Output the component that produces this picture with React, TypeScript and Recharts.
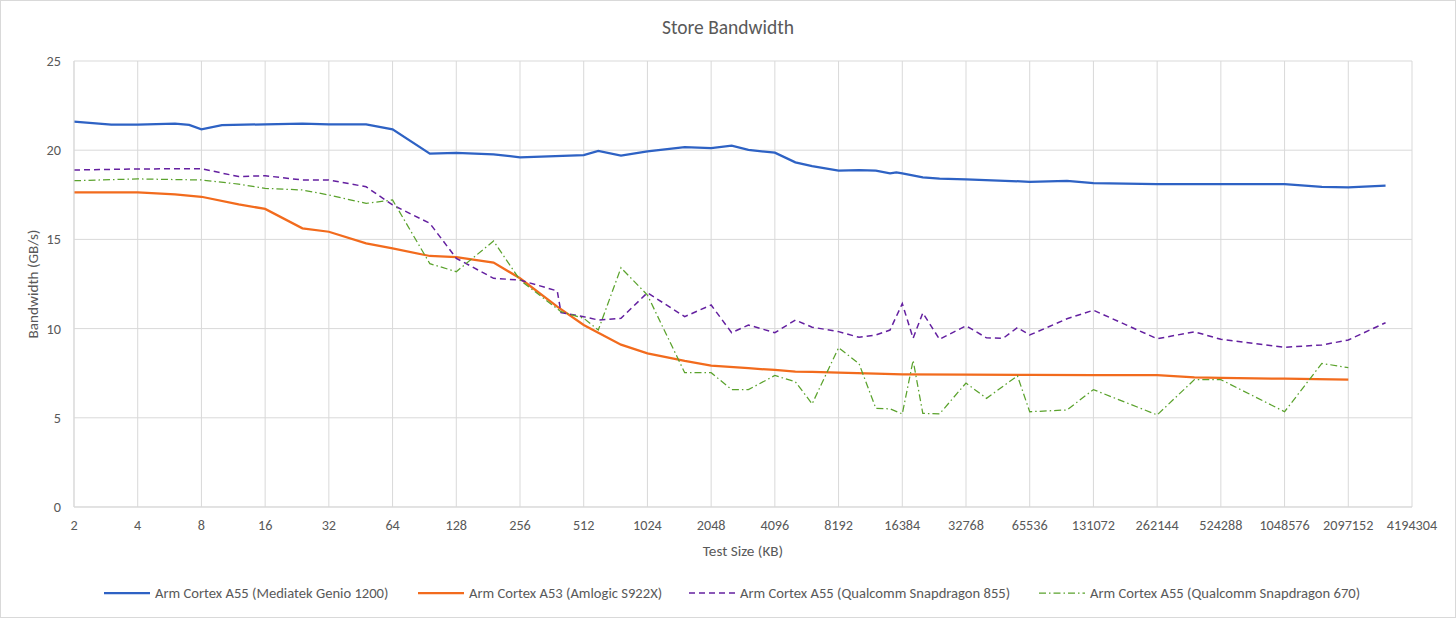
import { LineChart, Line, XAxis, YAxis, CartesianGrid, Legend } from "recharts";

// Test sizes in KB, bandwidth in GB/s
const genioSizes = [2, 3, 4, 6, 7, 8, 10, 16, 24, 32, 48, 64, 96, 128, 192, 256, 512, 600, 768, 1024, 1536, 2048, 2560, 3072,
  4096, 5120, 6144, 8192, 10240, 12288, 14336, 15360, 16384, 20480, 24576, 32768, 65536, 98304, 131072, 262144,
  524288, 1048576, 1572864, 2097152, 3145728];
const genioValues = [21.6, 21.43, 21.43, 21.49, 21.42, 21.17, 21.41, 21.45, 21.49, 21.45, 21.45, 21.17, 19.81, 19.85, 19.77,
  19.6, 19.73, 19.96, 19.7, 19.94, 20.17, 20.12, 20.25, 20.02, 19.86, 19.32, 19.11, 18.85, 18.88, 18.85, 18.7, 18.76,
  18.7, 18.48, 18.4, 18.37, 18.23, 18.28, 18.15, 18.1, 18.1, 18.1, 17.95, 17.92, 18.01];

const s922xSizes = [2, 4, 6, 8, 12, 16, 24, 32, 48, 64, 96, 128, 192, 256, 384, 512, 600, 768, 1024, 1536, 2048, 3072, 4096,
  5120, 6144, 8192, 12288, 16384, 32768, 65536, 131072, 262144, 393216, 524288, 1048576, 2097152];
const s922xValues = [17.63, 17.63, 17.53, 17.39, 16.96, 16.71, 15.62, 15.43, 14.78, 14.5, 14.07, 14.0, 13.7, 12.82, 11.23,
  10.2, 9.77, 9.1, 8.61, 8.19, 7.93, 7.78, 7.68, 7.59, 7.57, 7.53, 7.48, 7.44, 7.42, 7.4, 7.39, 7.39, 7.27, 7.24, 7.19, 7.14];

const sd855Sizes = [2, 4, 8, 12, 16, 24, 32, 48, 64, 96, 128, 192, 256, 384, 400, 512, 600, 768, 1024, 1536, 2048, 2560, 3072,
  4096, 5120, 6144, 8192, 10240, 12288, 14336, 16384, 18432, 20480, 24576, 32768, 40960, 49152, 57344, 65536, 98304,
  131072, 262144, 393216, 524288, 1048576, 1572864, 2097152, 3145728];
const sd855Values = [18.89, 18.95, 18.96, 18.52, 18.57, 18.33, 18.33, 17.95, 16.93, 15.9, 13.94, 12.82, 12.72, 12.11, 10.9,
  10.67, 10.48, 10.58, 12.01, 10.67, 11.32, 9.77, 10.2, 9.77, 10.48, 10.08, 9.83, 9.51, 9.64, 9.92, 11.4, 9.46, 10.88,
  9.4, 10.16, 9.48, 9.46, 10.06, 9.64, 10.55, 11.03, 9.43, 9.82, 9.4, 8.95, 9.08, 9.36, 10.33];

const sd670Sizes = [2, 4, 8, 12, 16, 24, 32, 48, 64, 96, 128, 192, 256, 400, 512, 600, 768, 1024, 1536, 2048, 2560, 3072, 4096,
  5120, 6144, 8192, 10240, 12288, 14336, 16384, 18432, 20480, 24576, 32768, 40960, 57344, 65536, 98304, 131072,
  262144, 393216, 524288, 1048576, 1572864, 2097152];
const sd670Values = [18.29, 18.39, 18.33, 18.1, 17.86, 17.77, 17.49, 17.02, 17.21, 13.64, 13.19, 14.91, 12.72, 10.95, 10.58,
  9.92, 13.41, 11.88, 7.53, 7.53, 6.58, 6.58, 7.37, 7.02, 5.78, 8.93, 8.03, 5.53, 5.5, 5.22, 8.22, 5.25, 5.22, 6.95,
  6.09, 7.35, 5.34, 5.44, 6.58, 5.16, 7.14, 7.14, 5.34, 8.05, 7.81];

const seriesNames = [
  "Arm Cortex A55 (Mediatek Genio 1200)",
  "Arm Cortex A53 (Amlogic S922X)",
  "Arm Cortex A55 (Qualcomm Snapdragon 855)",
  "Arm Cortex A55 (Qualcomm Snapdragon 670)",
];

// x axis runs in log2 units: 2^1 .. 2^22
const xTicks = Array.from({ length: 22 }, (_, i) => i + 1);
const yTicks = [0, 5, 10, 15, 20, 25];

const FONT = "Carlito, Lato, 'Open Sans', sans-serif";
const GREY = "#595959";
const GRID = "#d9d9d9";

function toPoints(sizes: number[], values: number[]) {
  return sizes.map((s, i) => ({ lx: Math.log2(s), v: values[i] }));
}

const series = [
  { name: seriesNames[0], data: toPoints(genioSizes, genioValues), color: "#2e62c4", width: 2.25, dash: undefined },
  { name: seriesNames[1], data: toPoints(s922xSizes, s922xValues), color: "#f26b1d", width: 2.25, dash: undefined },
  { name: seriesNames[2], data: toPoints(sd855Sizes, sd855Values), color: "#6420a0", width: 1.5, dash: "6 4" },
  { name: seriesNames[3], data: toPoints(sd670Sizes, sd670Values), color: "#5aa22c", width: 1.25, dash: "7 3 1.5 3" },
];

const slotWidths = [314, 271, 350, 330];

function LegendRow() {
  return (
    <div style={{ display: "flex", fontFamily: FONT, fontSize: 14.6, color: GREY, paddingLeft: 104 }}>
      {series.map((s, i) => (
        <div key={s.name} style={{ display: "flex", alignItems: "center", width: slotWidths[i] }}>
          <svg width={46} height={6} style={{ marginRight: 5 }}>
            <line x1={0} y1={3} x2={46} y2={3} stroke={s.color} strokeWidth={s.width} strokeDasharray={s.dash} />
          </svg>
          <span style={{ whiteSpace: "nowrap" }}>{s.name}</span>
        </div>
      ))}
    </div>
  );
}

export default function App() {
  return (
    <div style={{ position: "absolute", left: 0, top: 0, width: 1456, height: 618, background: "#fff" }}>
      <div
        style={{
          position: "absolute",
          top: 15,
          width: 1456,
          textAlign: "center",
          fontFamily: FONT,
          fontSize: 19.5,
          color: GREY,
        }}
      >
        Store Bandwidth
      </div>
      <LineChart width={1456} height={618} margin={{ top: 61, right: 44, bottom: 0, left: 0 }}>
        <CartesianGrid stroke={GRID} vertical horizontal />
        <XAxis
          type="number"
          dataKey="lx"
          domain={[1, 22]}
          ticks={xTicks}
          tickFormatter={(k: number) => String(Math.pow(2, k))}
          allowDuplicatedCategory={false}
          height={111}
          tickSize={0}
          tickMargin={13}
          axisLine={{ stroke: GRID }}
          tick={{ fontSize: 14.2, fill: GREY, fontFamily: FONT }}
          label={{ value: "Test Size (KB)", position: "insideTop", offset: 38, fontSize: 15.2, fill: GREY, fontFamily: FONT }}
        />
        <YAxis
          type="number"
          domain={[0, 25]}
          ticks={yTicks}
          width={74}
          tickSize={0}
          tickMargin={13}
          axisLine={{ stroke: GRID }}
          tick={{ fontSize: 14.2, fill: GREY, fontFamily: FONT }}
          label={{ value: "Bandwidth (GB/s)", angle: -90, position: "center", dx: -4, fontSize: 15.2, fill: GREY, fontFamily: FONT }}
        />
        <Legend
          layout="horizontal"
          verticalAlign="middle"
          align="center"
          wrapperStyle={{ top: 584, left: 0, width: 1456 }}
          content={() => <LegendRow />}
        />
        {series.map((s) => (
          <Line
            key={s.name}
            name={s.name}
            data={s.data}
            dataKey="v"
            type="linear"
            stroke={s.color}
            strokeWidth={s.width}
            strokeDasharray={s.dash}
            dot={false}
            activeDot={false}
            isAnimationActive={false}
          />
        ))}
      </LineChart>
      <div
        style={{
          position: "absolute",
          left: 0,
          top: 0,
          width: 1456,
          height: 618,
          boxSizing: "border-box",
          border: `1px solid ${GRID}`,
          pointerEvents: "none",
        }}
      />
    </div>
  );
}
